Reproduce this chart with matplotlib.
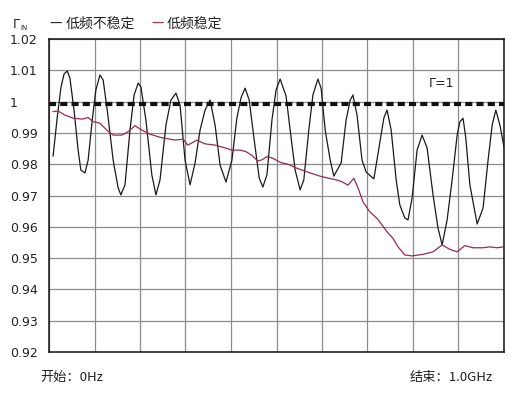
import matplotlib
matplotlib.use("Agg")
import matplotlib.pyplot as plt

# frequency in GHz, reflection magnitude
f_unstable = [0.009, 0.018, 0.026, 0.033, 0.040, 0.046, 0.055, 0.064, 0.070, 0.079,
              0.086, 0.095, 0.103, 0.112, 0.119, 0.128, 0.141, 0.152, 0.158, 0.167,
              0.178, 0.187, 0.196, 0.202, 0.213, 0.226, 0.235, 0.244, 0.257, 0.268,
              0.279, 0.288, 0.299, 0.310, 0.321, 0.332, 0.343, 0.354, 0.365, 0.376,
              0.389, 0.402, 0.413, 0.422, 0.431, 0.440, 0.451, 0.462, 0.470, 0.479,
              0.490, 0.499, 0.508, 0.521, 0.530, 0.541, 0.552, 0.560, 0.571, 0.580,
              0.591, 0.598, 0.607, 0.618, 0.626, 0.642, 0.653, 0.662, 0.668, 0.677,
              0.688, 0.697, 0.714, 0.728, 0.736, 0.743, 0.752, 0.763, 0.771, 0.782,
              0.789, 0.798, 0.809, 0.820, 0.831, 0.844, 0.855, 0.864, 0.875, 0.886,
              0.897, 0.903, 0.910, 0.916, 0.925, 0.941, 0.954, 0.965, 0.974, 0.982,
              0.991, 1.000]
g_unstable = [0.9826, 0.9948, 1.0043, 1.0088, 1.0098, 1.0075, 0.9973, 0.9845, 0.9781, 0.9772,
              0.9813, 0.9941, 1.0037, 1.0085, 1.0069, 0.9973, 0.9813, 0.9724, 0.9702, 0.9734,
              0.9909, 1.0021, 1.0059, 1.0047, 0.9941, 0.9766, 0.9702, 0.9750, 0.9925, 1.0005,
              1.0027, 0.9989, 0.9813, 0.9734, 0.9804, 0.9909, 0.9973, 1.0005, 0.9925, 0.9797,
              0.9743, 0.9813, 0.9948, 1.0012, 1.0043, 1.0005, 0.9877, 0.9756, 0.9727, 0.9766,
              0.9941, 1.0037, 1.0072, 1.0018, 0.9909, 0.9781, 0.9718, 0.9750, 0.9909, 1.0021,
              1.0072, 1.0043, 0.9909, 0.9813, 0.9762, 0.9804, 0.9941, 1.0005, 1.0021, 0.9957,
              0.9813, 0.9775, 0.9753, 0.9877, 0.9948, 0.9973, 0.9909, 0.9750, 0.9670, 0.9628,
              0.9622, 0.9692, 0.9845, 0.9893, 0.9852, 0.9702, 0.9596, 0.9542, 0.9622, 0.9750,
              0.9893, 0.9935, 0.9947, 0.9884, 0.9734, 0.9609, 0.9660, 0.9813, 0.9925, 0.9973,
              0.9925, 0.9855]

f_stable = [0.009, 0.020, 0.035, 0.053, 0.073, 0.086, 0.097, 0.112, 0.127, 0.141,
            0.160, 0.174, 0.189, 0.204, 0.222, 0.244, 0.277, 0.295, 0.305, 0.314,
            0.325, 0.343, 0.365, 0.387, 0.402, 0.420, 0.433, 0.446, 0.459, 0.468,
            0.479, 0.490, 0.510, 0.525, 0.545, 0.574, 0.600, 0.631, 0.644, 0.657,
            0.670, 0.679, 0.690, 0.705, 0.721, 0.743, 0.756, 0.767, 0.782, 0.798,
            0.822, 0.844, 0.864, 0.881, 0.897, 0.914, 0.932, 0.954, 0.969, 0.985,
            1.000]
g_stable = [0.9968, 0.9970, 0.9957, 0.9947, 0.9944, 0.9949, 0.9936, 0.9931, 0.9909, 0.9893,
            0.9893, 0.9904, 0.9923, 0.9909, 0.9896, 0.9886, 0.9877, 0.9880, 0.9861, 0.9868,
            0.9877, 0.9865, 0.9861, 0.9852, 0.9845, 0.9845, 0.9840, 0.9828, 0.9810, 0.9814,
            0.9824, 0.9820, 0.9805, 0.9800, 0.9787, 0.9772, 0.9760, 0.9750, 0.9744, 0.9733,
            0.9755, 0.9725, 0.9680, 0.9648, 0.9627, 0.9584, 0.9563, 0.9536, 0.9510, 0.9507,
            0.9512, 0.9520, 0.9542, 0.9528, 0.9520, 0.9540, 0.9533, 0.9533, 0.9536, 0.9533,
            0.9536]

y_ticks = [0.92, 0.93, 0.94, 0.95, 0.96, 0.97, 0.98, 0.99, 1.00, 1.01, 1.02]
y_labels = ["0.92", "0.93", "0.94", "0.95", "0.96", "0.97", "0.98", "0.99", "1", "1.01", "1.02"]
x_ticks = [0.0, 0.1, 0.2, 0.3, 0.4, 0.5, 0.6, 0.7, 0.8, 0.9, 1.0]
gamma_one = 1.0

cjk = ["Noto Sans CJK SC", "DejaVu Sans"]

fig = plt.figure(figsize=(5.28, 3.95), dpi=100)
ax = fig.add_axes([49 / 528, 1 - 352 / 395, 455 / 528, 313 / 395])

ax.plot(f_unstable, g_unstable, color="#1a1a1a", lw=0.9, zorder=3)
ax.plot(f_stable, g_stable, color="#9a2a4a", lw=0.9, zorder=3)
ax.axhline(gamma_one - 0.0007, color="#111111", lw=3, dashes=(1.7, 1.0), zorder=4)
ax.text(0.835, 1.0046, "Γ=1", fontsize=9, family="DejaVu Sans", color="#222222")

ax.set_xlim(0, 1)
ax.set_ylim(0.92, 1.02)
ax.set_xticks(x_ticks)
ax.set_xticklabels([])
ax.set_yticks(y_ticks)
ax.set_yticklabels(y_labels, fontsize=9, family="DejaVu Sans", color="#222222")
for lab in ax.get_yticklabels():
    lab.set_horizontalalignment("left")
ax.tick_params(axis="both", length=0)
ax.tick_params(axis="y", pad=28)
ax.grid(True, color="#8c8c8c", lw=0.9)
ax.set_axisbelow(True)
for s in ax.spines.values():
    s.set_color("#111111")
    s.set_linewidth(1.1)

# header legend
fig.text(13 / 528, 1 - 25 / 395, "Γ", fontsize=9, family="DejaVu Sans", va="center", color="#222222")
fig.text(20 / 528, 1 - 28 / 395, "IN", fontsize=5, family="DejaVu Sans", va="center", color="#222222")
fig.text(49 / 528, 1 - 24 / 395, "—", fontsize=10, family=cjk, va="center", color="#222222")
fig.text(66 / 528, 1 - 24 / 395, "低频不稳定", fontsize=10, family=cjk, va="center", color="#222222")
fig.text(151 / 528, 1 - 24 / 395, "—", fontsize=10, family=cjk, va="center", color="#b02a3a")
fig.text(167 / 528, 1 - 24 / 395, "低频稳定", fontsize=10, family=cjk, va="center", color="#222222")

# footer
fig.text(40 / 528, 1 - 377 / 395, "开始：0Hz", fontsize=9.5, family=cjk, va="center", color="#222222")
fig.text(410 / 528, 1 - 377 / 395, "结束：1.0GHz", fontsize=9.5, family=cjk, va="center", color="#222222")

fig.savefig("out.png", dpi=100)
